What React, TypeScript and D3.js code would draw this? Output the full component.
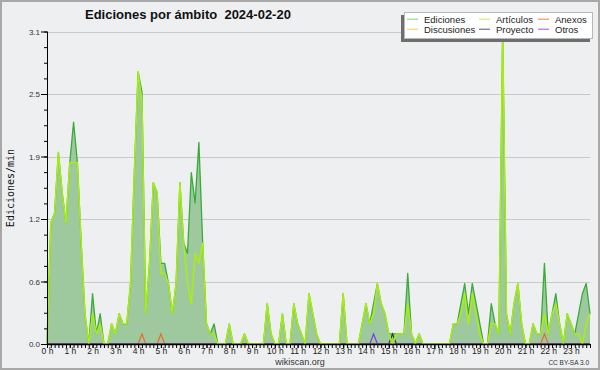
import React, { useEffect, useRef } from "react";
import * as d3 from "d3";

// one value per 10 minutes, edits per minute
const hourLabels = [
  "0 h", "1 h", "2 h", "3 h", "4 h", "5 h", "6 h", "7 h", "8 h", "9 h", "10 h", "11 h",
  "12 h", "13 h", "14 h", "15 h", "16 h", "17 h", "18 h", "19 h", "20 h", "21 h", "22 h", "23 h",
];
const yTickValues = [0, 0.62, 1.24, 1.86, 2.48, 3.1];
const yTickLabels = ["0.0", "0.6", "1.2", "1.9", "2.5", "3.1"];

const ediciones = [
  0, 1.2, 1.3, 1.9, 1.5, 1.2, 1.8, 2.2, 1.8, 1.0, 0.3, 0,
  0.5, 0.1, 0.3, 0, 0, 0.2, 0.1, 0.3, 0.2, 0.2, 0.6, 1.7,
  2.7, 2.5, 0.3, 0.8, 1.6, 1.5, 0.8, 0.8, 0.6, 0.3, 0.6, 1.6,
  1.0, 0.9, 1.7, 1.4, 2.0, 1.0, 0.2, 0.1, 0.2, 0, 0, 0,
  0.2, 0, 0, 0, 0.1, 0, 0, 0, 0, 0, 0.4, 0.1,
  0, 0, 0.3, 0, 0, 0.4, 0.2, 0.1, 0, 0.5, 0.3, 0.1,
  0, 0, 0, 0, 0, 0, 0.5, 0, 0, 0, 0, 0.2,
  0.4, 0.2, 0.4, 0.6, 0.4, 0.3, 0.1, 0.1, 0.1, 0.1, 0.1, 0.7,
  0.1, 0, 0.1, 0, 0, 0, 0, 0, 0, 0, 0, 0.2,
  0.2, 0.4, 0.6, 0.3, 0.6, 0.4, 0.2, 0, 0, 0.4, 0.2, 0.1,
  3.1, 0.3, 0.1, 0.4, 0.6, 0.2, 0, 0, 0.2, 0.1, 0.1, 0.8,
  0.1, 0.3, 0.5, 0.2, 0, 0.3, 0.2, 0.1, 0.3, 0.5, 0.6, 0.3,
];

const articulos = [
  0, 1.2, 1.3, 1.9, 1.5, 1.2, 1.8, 1.8, 1.8, 1.0, 0.3, 0,
  0.3, 0.1, 0.2, 0, 0, 0.2, 0.1, 0.3, 0.2, 0.2, 0.6, 1.7,
  2.7, 2.4, 0.3, 0.8, 1.6, 1.5, 0.7, 0.7, 0.6, 0.3, 0.6, 1.6,
  1.0, 0.6, 0.4, 0.9, 0.8, 1.0, 0.2, 0.1, 0.1, 0, 0, 0,
  0.2, 0, 0, 0, 0.1, 0, 0, 0, 0, 0, 0.4, 0.1,
  0, 0, 0.3, 0, 0, 0.4, 0.2, 0.1, 0, 0.5, 0.3, 0.1,
  0, 0, 0, 0, 0, 0, 0.5, 0, 0, 0, 0, 0.2,
  0.4, 0.2, 0.3, 0.6, 0.4, 0.3, 0.1, 0, 0.1, 0.1, 0.1, 0.4,
  0.1, 0, 0.1, 0, 0, 0, 0, 0, 0, 0, 0, 0.2,
  0.2, 0.3, 0.5, 0.2, 0.5, 0.3, 0.1, 0, 0, 0.2, 0.2, 0.1,
  3.1, 0.3, 0.1, 0.4, 0.6, 0.2, 0, 0, 0.2, 0.1, 0.1, 0.3,
  0.1, 0.3, 0.4, 0.2, 0, 0.3, 0.2, 0.1, 0.1, 0, 0.2, 0.3,
];

const anexos = [
  0, 0, 0, 0, 0, 0, 0, 0, 0, 0, 0, 0,
  0, 0, 0, 0, 0, 0, 0, 0, 0, 0, 0, 0,
  0, 0.1, 0, 0, 0, 0, 0.1, 0, 0, 0, 0, 0,
  0, 0, 0, 0, 0, 0, 0, 0, 0, 0, 0, 0,
  0, 0, 0, 0, 0, 0, 0, 0, 0, 0, 0, 0,
  0, 0, 0, 0, 0, 0, 0, 0, 0, 0, 0, 0,
  0, 0, 0, 0, 0, 0, 0, 0, 0, 0, 0, 0,
  0, 0, 0, 0, 0, 0, 0, 0, 0, 0, 0, 0,
  0, 0, 0, 0, 0, 0, 0, 0, 0, 0, 0, 0,
  0, 0, 0, 0, 0, 0, 0, 0, 0, 0, 0, 0,
  0, 0, 0, 0, 0, 0, 0, 0, 0, 0, 0, 0.1,
  0, 0, 0, 0, 0, 0, 0, 0, 0, 0, 0, 0,
];

const discusiones = [
  0, 0, 0, 0, 0, 0, 0, 0, 0, 0, 0, 0,
  0, 0, 0, 0, 0, 0, 0, 0, 0, 0, 0, 0,
  0, 0, 0, 0, 0, 0, 0, 0, 0, 0, 0, 0,
  0, 0, 0, 0, 0, 0, 0, 0, 0, 0, 0, 0,
  0, 0, 0, 0, 0, 0, 0, 0, 0, 0, 0, 0,
  0, 0, 0, 0, 0, 0, 0, 0, 0, 0, 0, 0,
  0, 0, 0, 0, 0, 0, 0, 0, 0, 0, 0, 0,
  0, 0, 0, 0, 0, 0, 0, 0, 0, 0, 0, 0,
  0, 0, 0, 0, 0, 0, 0, 0, 0, 0, 0, 0,
  0, 0, 0, 0, 0, 0, 0, 0, 0, 0, 0, 0,
  0, 0, 0, 0, 0, 0, 0, 0, 0, 0, 0, 0,
  0, 0, 0, 0, 0, 0, 0, 0, 0, 0, 0, 0,
];

const proyecto = [
  0, 0, 0, 0, 0, 0, 0, 0, 0, 0, 0, 0,
  0, 0, 0, 0, 0, 0, 0, 0, 0, 0, 0, 0,
  0, 0, 0, 0, 0, 0, 0, 0, 0, 0, 0, 0,
  0, 0, 0, 0, 0, 0, 0, 0, 0, 0, 0, 0,
  0, 0, 0, 0, 0, 0, 0, 0, 0, 0, 0, 0,
  0, 0, 0, 0, 0, 0, 0, 0, 0, 0, 0, 0,
  0, 0, 0, 0, 0, 0, 0, 0, 0, 0, 0, 0,
  0, 0, 0, 0, 0, 0, 0, 0.1, 0, 0, 0, 0,
  0, 0, 0, 0, 0, 0, 0, 0, 0, 0, 0, 0,
  0, 0, 0, 0, 0, 0, 0, 0, 0, 0, 0, 0,
  0, 0, 0, 0, 0, 0, 0, 0, 0, 0, 0, 0,
  0, 0, 0, 0, 0, 0, 0, 0, 0, 0, 0, 0,
];

const otros = [
  0, 0, 0, 0, 0, 0, 0, 0, 0, 0, 0, 0,
  0, 0, 0, 0, 0, 0, 0, 0, 0, 0, 0, 0,
  0, 0, 0, 0, 0, 0, 0, 0, 0, 0, 0, 0,
  0, 0, 0, 0, 0, 0, 0, 0, 0, 0, 0, 0,
  0, 0, 0, 0, 0, 0, 0, 0, 0, 0, 0, 0,
  0, 0, 0, 0, 0, 0, 0, 0, 0, 0, 0, 0,
  0, 0, 0, 0, 0, 0, 0, 0, 0, 0, 0, 0,
  0, 0, 0.1, 0, 0, 0, 0, 0, 0, 0, 0, 0,
  0, 0, 0, 0, 0, 0, 0, 0, 0, 0, 0, 0,
  0, 0, 0, 0, 0, 0, 0, 0, 0, 0, 0, 0,
  0, 0, 0, 0, 0, 0, 0, 0, 0, 0, 0, 0,
  0, 0, 0, 0, 0, 0, 0, 0, 0, 0, 0, 0,
];

const legendNames = ["Ediciones", "Artículos", "Anexos", "Discusiones", "Proyecto", "Otros"];
const legendColors = ["#88cc88", "#ccee55", "#ff7744", "#ffcc44", "#555555", "#9955ee"];

const SANS = "'Liberation Sans', Arial, sans-serif";

export default function App() {
  const svgRef = useRef<SVGSVGElement>(null);
  const width = 600;
  const height = 370;

  useEffect(() => {
    const svgEl = d3.select(svgRef.current);
    svgEl.selectAll("*").remove();

    const x = d3.scaleLinear().domain([0, ediciones.length - 1]).range([47, 590]);
    const y = d3.scaleLinear().domain([0, 3.1]).range([344, 31.5]);

    // background + frame
    svgEl.append("rect")
      .attr("x", 1).attr("y", 1)
      .attr("width", width - 2).attr("height", height - 2)
      .attr("fill", "#eeeff0")
      .attr("stroke", "#a8a8a8")
      .attr("stroke-width", 2);

    // horizontal grid
    svgEl.append("g").selectAll("line")
      .data(yTickValues.slice(1))
      .enter().append("line")
      .attr("x1", 47).attr("x2", 590)
      .attr("y1", (d) => Math.round(y(d)) + 0.5)
      .attr("y2", (d) => Math.round(y(d)) + 0.5)
      .attr("stroke", "#c9c9c9");

    const area = d3.area<number>()
      .x((d, i) => x(i))
      .y0(y(0))
      .y1((d) => y(d));
    const line = d3.line<number>()
      .x((d, i) => x(i))
      .y((d) => y(d));

    svgEl.append("path")
      .attr("d", area(ediciones))
      .attr("fill", "#9ec99e");
    svgEl.append("path")
      .attr("d", line(ediciones))
      .attr("fill", "none")
      .attr("stroke", "#3aaa3a")
      .attr("stroke-width", 1.3)
      .attr("stroke-linejoin", "round");

    var others = [
      { values: discusiones, color: "#f0c030" },
      { values: anexos, color: "#ee6a2a" },
      { values: proyecto, color: "#2e402e" },
      { values: otros, color: "#7a3cf0" },
    ];
    others.forEach((s) => {
      svgEl.append("path")
        .attr("d", line(s.values))
        .attr("fill", "none")
        .attr("stroke", s.color)
        .attr("stroke-width", 1.2);
    });

    svgEl.append("path")
      .attr("d", line(articulos))
      .attr("fill", "none")
      .attr("stroke", "#aaee11")
      .attr("stroke-width", 1.5)
      .attr("stroke-linejoin", "round");

    // y axis
    const yMinor = d3.range(0, 21).map((k) => (k * 3.1) / 20);
    const yMinorAxis = svgEl.append("g")
      .attr("transform", "translate(47,0)")
      .call(d3.axisLeft(y).tickValues(yMinor).tickSize(3).tickFormat(() => ""));
    yMinorAxis.select(".domain").remove();
    const yAxis = svgEl.append("g")
      .attr("transform", "translate(47,0)")
      .call(d3.axisLeft(y).tickValues(yTickValues).tickSize(6).tickPadding(1)
        .tickFormat((d, i) => yTickLabels[i]));
    yAxis.select(".domain").attr("d", `M0.5,${y(3.1)}V${y(0)}`);
    yAxis.selectAll("text")
      .attr("font-family", SANS)
      .attr("font-size", 8)
      .attr("fill", "#333");

    // x axis
    const xMinor = d3.range(0, ediciones.length);
    const xMinorAxis = svgEl.append("g")
      .attr("transform", "translate(0,344)")
      .call(d3.axisBottom(x).tickValues(xMinor).tickSize(4).tickFormat(() => ""));
    xMinorAxis.select(".domain").remove();
    const xAxis = svgEl.append("g")
      .attr("transform", "translate(0,344)")
      .call(d3.axisBottom(x).tickValues(hourLabels.map((h, i) => i * 6)).tickSize(4).tickPadding(0)
        .tickFormat((d, i) => hourLabels[i]));
    xAxis.select(".domain").attr("d", `M47,0.5H590`).attr("stroke-width", 1.5);
    xAxis.selectAll("text")
      .attr("font-family", SANS)
      .attr("font-size", 8.5)
      .attr("fill", "#222");

    // titles
    svgEl.append("text")
      .attr("x", 85).attr("y", 18.5)
      .attr("font-family", SANS)
      .attr("font-weight", "bold")
      .attr("font-size", 13)
      .attr("fill", "#111")
      .style("white-space", "pre")
      .text("Ediciones por ámbito  2024-02-20");

    svgEl.append("text")
      .attr("transform", "translate(14,188) rotate(-90)")
      .attr("text-anchor", "middle")
      .attr("font-family", "'DejaVu Sans Mono', monospace")
      .attr("font-size", 10)
      .attr("fill", "#111")
      .text("Ediciones/min");

    svgEl.append("text")
      .attr("x", 300).attr("y", 365)
      .attr("text-anchor", "middle")
      .attr("font-family", SANS)
      .attr("font-size", 9)
      .attr("fill", "#333")
      .text("wikiscan.org");

    svgEl.append("text")
      .attr("x", 589).attr("y", 364.5)
      .attr("text-anchor", "end")
      .attr("font-family", SANS)
      .attr("font-size", 6.5)
      .attr("fill", "#333")
      .text("CC BY-SA 3.0");

    // legend
    const legend = svgEl.append("g");
    legend.append("rect")
      .attr("x", 401).attr("y", 15)
      .attr("width", 189).attr("height", 27)
      .attr("fill", "#6e6e6e");
    legend.append("rect")
      .attr("x", 404.5).attr("y", 12.5)
      .attr("width", 188).attr("height", 26)
      .attr("fill", "#fff")
      .attr("stroke", "#b8b8b8");
    const colX = [407, 479, 538];
    const rowY = [22.7, 32.7];
    legendNames.forEach((name, i) => {
      const cx = colX[i % 3];
      const cy = rowY[Math.floor(i / 3)];
      legend.append("line")
        .attr("x1", cx).attr("x2", cx + 11)
        .attr("y1", cy - 3.5).attr("y2", cy - 3.5)
        .attr("stroke", legendColors[i])
        .attr("stroke-width", 1);
      legend.append("text")
        .attr("x", cx + 17).attr("y", cy)
        .attr("font-family", SANS)
        .attr("font-size", 9.5)
        .attr("fill", "#222")
        .text(name);
    });
  }, []);

  return (
    <svg
      ref={svgRef}
      width={width}
      height={height}
      style={{ position: "absolute", left: 0, top: 0, display: "block" }}
    />
  );
}
